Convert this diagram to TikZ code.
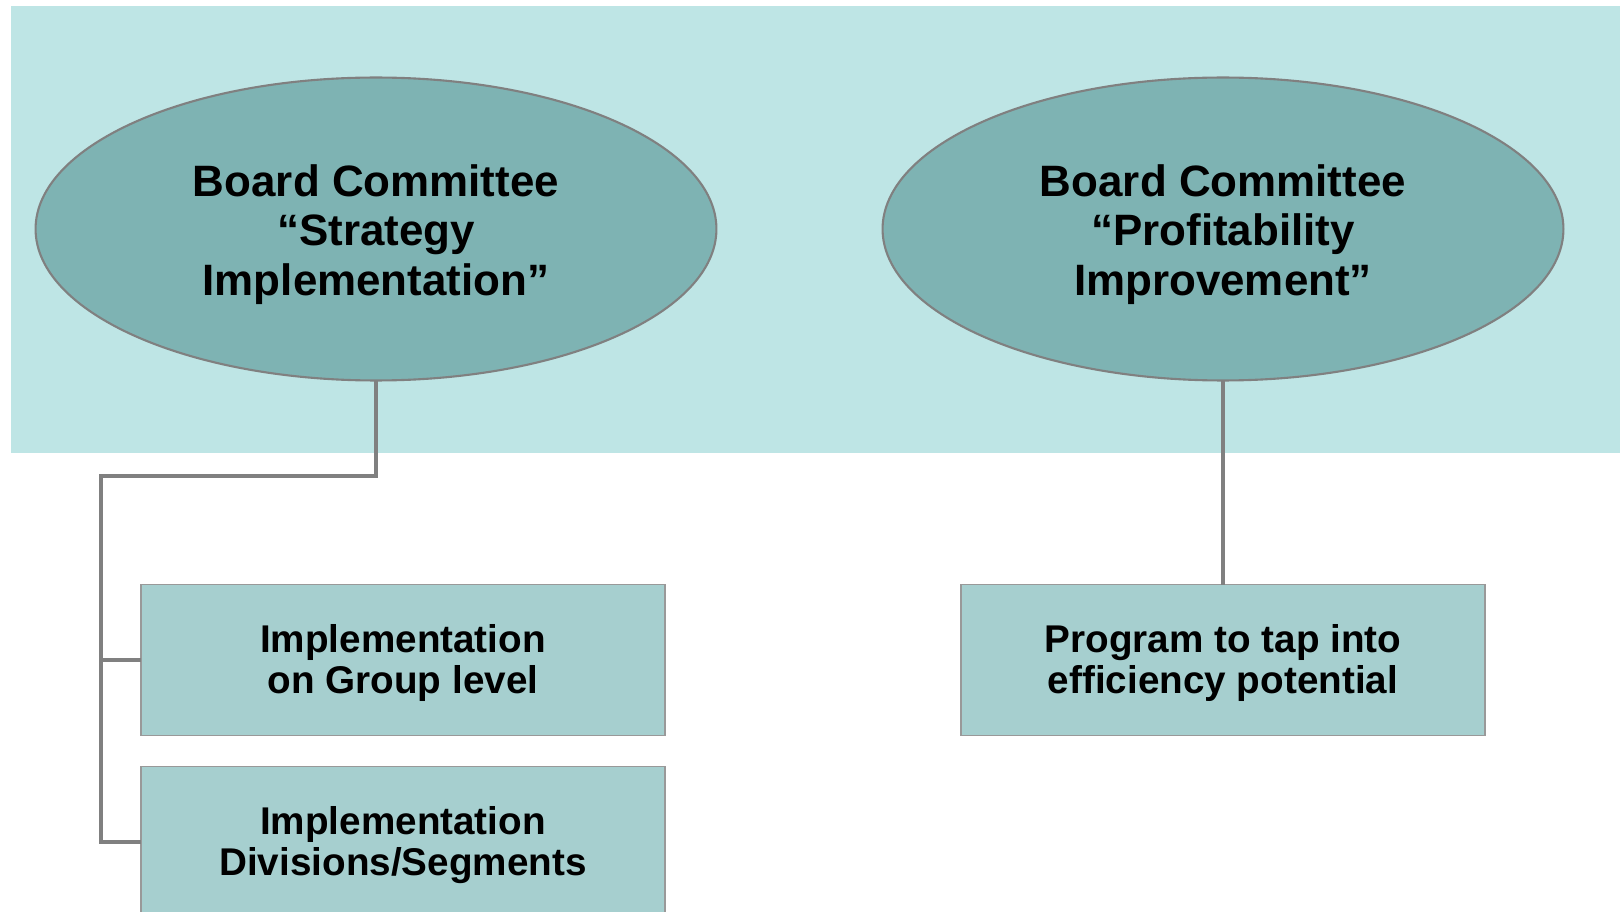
\documentclass[tikz,border=0pt]{standalone}
\usepackage{fontspec}
\setmainfont{Liberation Sans}
\usetikzlibrary{shapes.geometric}
\definecolor{bandcol}{HTML}{BEE5E5}
\definecolor{ovalcol}{HTML}{7EB3B3}
\definecolor{boxcol}{HTML}{A6CFCF}
\definecolor{linecol}{HTML}{808080}
\begin{document}
\begin{tikzpicture}[x=0.02cm, y=-0.02cm,
	committee/.style={ellipse, draw=linecol, line width=1.2pt, fill=ovalcol, minimum width=13.62cm, minimum height=6.06cm, inner sep=0pt, outer sep=0pt, align=center, font=\fontsize{25}{28}\selectfont\bfseries},
	task/.style={rectangle, draw=linecol!80, line width=1.1pt, fill=boxcol, minimum width=10.5cm, minimum height=3.02cm, outer sep=0pt, align=center, font=\fontsize{22}{23.5}\selectfont\bfseries},
	link/.style={draw=linecol, line width=2.5pt}]
	\clip (0,0) rectangle (1620,912);
	\fill[bandcol] (11.4,6.2) rectangle (1620,452.6);
	\node[committee] at (376,229) (strat) {\rule{0pt}{24.5pt}Board Committee\\“Strategy\\Implementation”};
	\node[committee] at (1223,229) (profit) {\rule{0pt}{24.5pt}Board Committee\\“Profitability\\Improvement”};
	\node[task] at (403,660) (grp) {\rule{0pt}{19.5pt}Implementation\\on Group level};
	\node[task] at (403,842) (seg) {\rule{0pt}{19.5pt}Implementation\\Divisions/Segments};
	\node[task] at (1223,660) (prog) {\rule{0pt}{19.5pt}Program to tap into\\efficiency potential};
	\coordinate (bend) at (101,476);
	\draw[link]
	(strat.south) |- (bend) |- (seg.west);
	\draw[link] (bend |- grp.west) -- (grp.west);
	\draw[link, line width=1.8pt] (profit.south) -- (prog.north);
\end{tikzpicture}
\end{document}
